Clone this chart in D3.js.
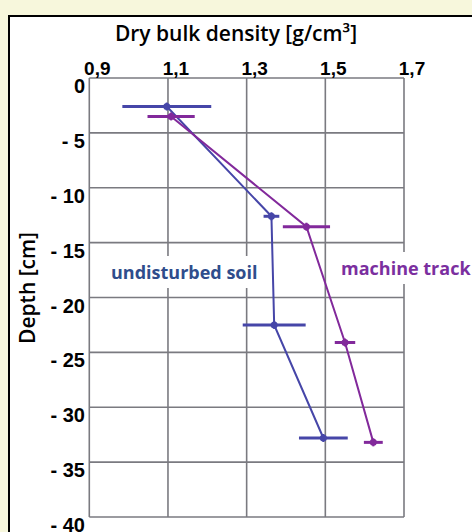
<!DOCTYPE html>
<html>
<head>
<meta charset="utf-8">
<title>Dry bulk density</title>
<script src="https://cdnjs.cloudflare.com/ajax/libs/d3/7.8.5/d3.min.js"></script>
<style>
  html, body { margin: 0; padding: 0; background: #f7f7dc; }
  svg { display: block; }
</style>
</head>
<body>
<script>
// density ticks and depth ticks
var densityTicks = [0.9, 1.1, 1.3, 1.5, 1.7];
var densityTickLabels = ["0,9", "1,1", "1,3", "1,5", "1,7"];
var depthTicks = [0, -5, -10, -15, -20, -25, -30, -35, -40];
var depthTickLabels = ["0", "- 5", "- 10", "- 15", "- 20", "- 25", "- 30", "- 35", "- 40"];

// undisturbed soil
var soilDepth = [-2.6, -12.6, -22.5, -32.8];
var soilDensity = [1.097, 1.363, 1.370, 1.495];
var soilError = [0.113, 0.02, 0.08, 0.062];

// machine track
var trackDepth = [-3.5, -13.55, -24.1, -33.2];
var trackDensity = [1.108, 1.452, 1.550, 1.622];
var trackError = [0.06, 0.06, 0.026, 0.024];

var width = 472, height = 532;
var blue = "#4646a8", purple = "#82299b";

var svg = d3.select("body").append("svg")
    .attr("width", width)
    .attr("height", height);

// white panel with black frame
svg.append("rect")
    .attr("x", 9).attr("y", 16)
    .attr("width", width + 20).attr("height", height + 20)
    .attr("fill", "#fff")
    .attr("stroke", "#000")
    .attr("stroke-width", 2);

var x = d3.scaleLinear().domain([0.9, 1.7]).range([89.3, 404]);
var y = d3.scaleLinear().domain([0, -40]).range([78, 517]);

// grid
var grid = svg.append("g").attr("stroke", "#7a7a80").attr("stroke-width", 1.6);
grid.selectAll(".vg").data(densityTicks).enter().append("line")
    .attr("x1", d => x(d)).attr("x2", d => x(d))
    .attr("y1", y(0)).attr("y2", y(-40));
grid.selectAll(".hg").data(depthTicks).enter().append("line")
    .attr("y1", d => y(d)).attr("y2", d => y(d))
    .attr("x1", x(0.9)).attr("x2", x(1.7));

// tick labels
svg.append("g").selectAll("text").data(densityTicks).enter().append("text")
    .attr("x", d => x(d) + 8)
    .attr("y", 75)
    .attr("text-anchor", "middle")
    .style("font", "bold 19px 'Liberation Sans', Arial, sans-serif")
    .text((d, i) => densityTickLabels[i]);

svg.append("g").selectAll("text").data(depthTicks).enter().append("text")
    .attr("x", 85)
    .attr("y", d => y(d) + 15)
    .attr("text-anchor", "end")
    .style("font", "bold 20px 'Liberation Sans', Arial, sans-serif")
    .text((d, i) => depthTickLabels[i]);

// axis titles
svg.append("text")
    .attr("x", 236).attr("y", 41)
    .attr("text-anchor", "middle")
    .style("font", "600 21px 'Open Sans', sans-serif")
    .text("Dry bulk density [g/cm³]");

svg.append("text")
    .attr("transform", "translate(35,288) rotate(-90)")
    .attr("text-anchor", "middle")
    .style("font", "600 21px 'Open Sans', sans-serif")
    .text("Depth [cm]");

// series labels with white boxes
function label(txt, x0, y0, color) {
  var g = svg.append("g");
  var t = g.append("text")
      .attr("x", x0).attr("y", y0)
      .attr("fill", color)
      .style("font", "bold 18px 'Open Sans', sans-serif")
      .text(txt);
  var b = t.node().getBBox();
  g.insert("rect", "text")
      .attr("x", b.x - 4).attr("y", b.y - 4)
      .attr("width", b.width + 8).attr("height", b.height + 8)
      .attr("fill", "#fff");
}
label("undisturbed soil", 111, 279, "#2f4d8c");
label("machine track", 341, 275, "#7b2f9f");

function series(depths, dens, errs, color) {
  var pts = depths.map((d, i) => ({ depth: d, dens: dens[i], err: errs[i] }));
  var g = svg.append("g");
  g.append("path")
      .datum(pts)
      .attr("fill", "none")
      .attr("stroke", color)
      .attr("stroke-width", 2)
      .attr("d", d3.line().x(d => x(d.dens)).y(d => y(d.depth)));
  g.selectAll(".err").data(pts).enter().append("line")
      .attr("x1", d => x(d.dens - d.err)).attr("x2", d => x(d.dens + d.err))
      .attr("y1", d => y(d.depth)).attr("y2", d => y(d.depth))
      .attr("stroke", color).attr("stroke-width", 3);
  g.selectAll(".cap").data(pts).enter().append("line")
      .attr("x1", d => x(d.dens)).attr("x2", d => x(d.dens))
      .attr("y1", d => y(d.depth) - 4).attr("y2", d => y(d.depth) + 4)
      .attr("stroke", color).attr("stroke-width", 2);
  g.selectAll("circle").data(pts).enter().append("circle")
      .attr("cx", d => x(d.dens)).attr("cy", d => y(d.depth))
      .attr("r", 3.5)
      .attr("fill", color);
}
series(soilDepth, soilDensity, soilError, blue);
series(trackDepth, trackDensity, trackError, purple);
</script>
</body>
</html>
